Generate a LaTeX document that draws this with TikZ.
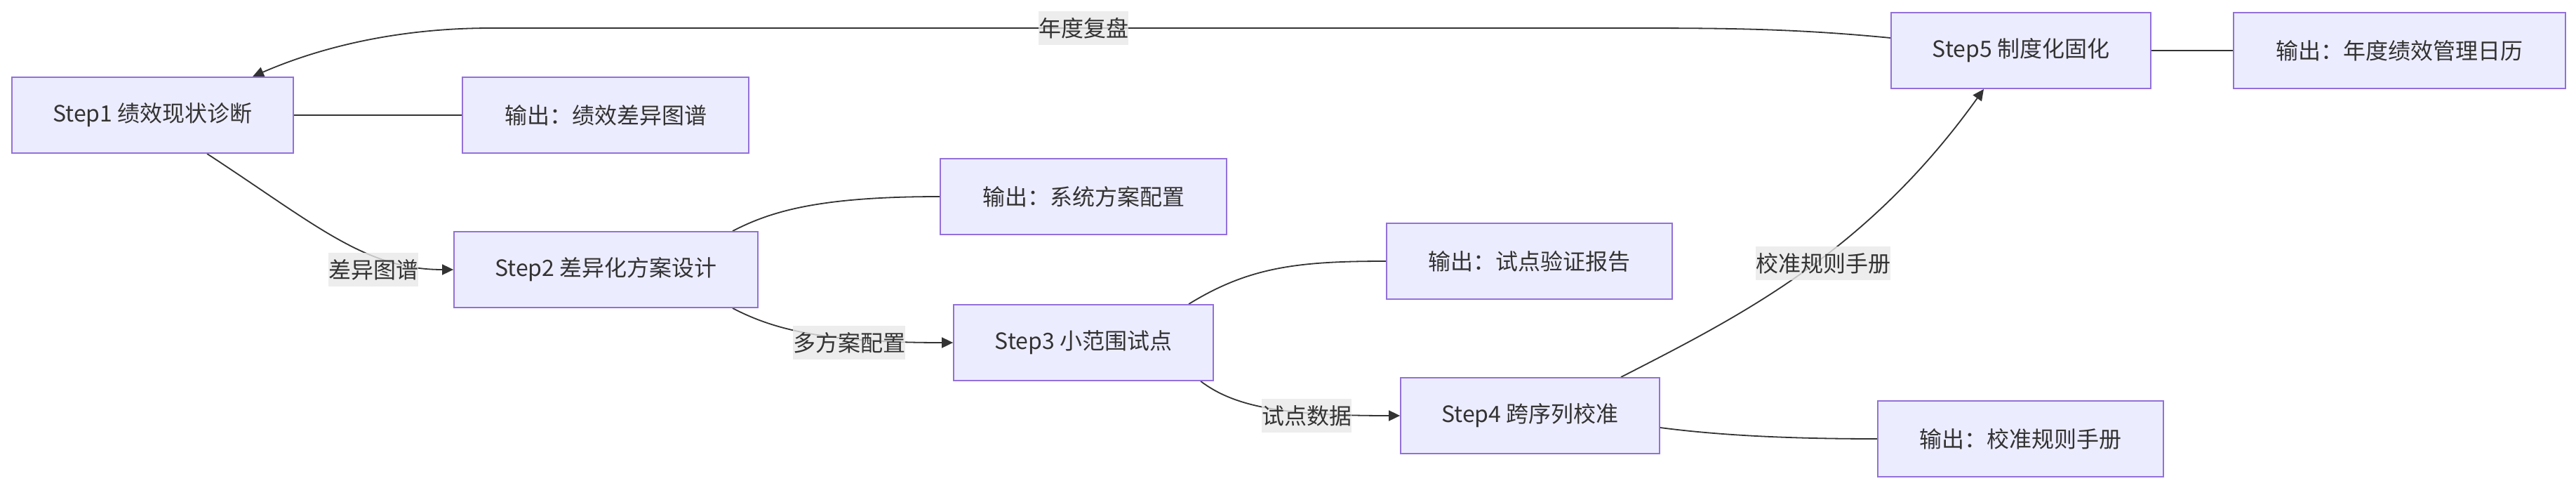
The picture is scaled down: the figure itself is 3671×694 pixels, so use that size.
\documentclass[tikz,border=0pt]{standalone}
\usepackage{fontspec}
\setmainfont{Noto Sans CJK SC}
\usetikzlibrary{arrows.meta}
\definecolor{boxfill}{HTML}{ECECFF}
\definecolor{boxline}{HTML}{9370DB}
\definecolor{ink}{HTML}{333333}
\definecolor{lblbg}{HTML}{E8E8E8}
\pgfdeclarelayer{edges}
\pgfsetlayers{edges,main}
\begin{document}
\begin{tikzpicture}[x=1pt,y=-1pt,
  box/.style={draw=boxline, fill=boxfill, line width=1.8pt, minimum height=108pt, inner sep=0pt, text=ink, font=\fontsize{32pt}{40pt}\selectfont},
  elabel/.style={fill=lblbg, fill opacity=0.8, text opacity=1, text=ink, inner sep=0pt, minimum height=48pt, font=\fontsize{32pt}{40pt}\selectfont},
  link/.style={draw=ink, line width=1.8pt},
  arrowlink/.style={link, -{Triangle[length=16pt,width=15pt]}}
]
\useasboundingbox (0,0) rectangle (3671,694);

% step nodes
\node[box, minimum width=401pt] (s1) at (217.5,164) {Step1 绩效现状诊断};
\node[box, minimum width=433pt] (s2) at (863.5,384) {Step2 差异化方案设计};
\node[box, minimum width=370pt] (s3) at (1544,488) {Step3 小范围试点};
\node[box, minimum width=369pt] (s4) at (2180.5,592) {Step4 跨序列校准};
\node[box, minimum width=370pt] (s5) at (2880,72) {Step5 制度化固化};

% output nodes
\node[box, minimum width=408pt] (o1) at (863,164) {输出：绩效差异图谱};
\node[box, minimum width=408pt] (o2) at (1544,280) {输出：系统方案配置};
\node[box, minimum width=407pt] (o3) at (2179.5,372) {输出：试点验证报告};
\node[box, minimum width=407pt] (o4) at (2879.5,625) {输出：校准规则手册};
\node[box, minimum width=473pt] (o5) at (3419.5,72) {输出：年度绩效管理日历};

% edge labels
\node[elabel, minimum width=128pt] (l12) at (532,384) {差异图谱};
\node[elabel, minimum width=160pt] (l23) at (1210,488) {多方案配置};
\node[elabel, minimum width=128pt] (l34) at (1862,592) {试点数据};
\node[elabel, minimum width=192pt] (l45) at (2598,375) {校准规则手册};
\node[elabel, minimum width=128pt] (l51) at (1544,40) {年度复盘};

\begin{pgfonlayer}{edges}
\draw[link] (s1.east) -- (o1.west);
\draw[link] (s5.east) -- (o5.west);
\draw[arrowlink] ([xshift=77.5pt]s1.south) .. controls (450,320) and (520,384) .. (s2.west);
\draw[link] ([xshift=180.5pt]s2.north) .. controls (1100,300) and (1170,280) .. (o2.west);
\draw[arrowlink] ([xshift=180.5pt]s2.south) .. controls (1100,468) and (1170,488) .. (s3.west);
\draw[link] ([xshift=150pt]s3.north) .. controls (1780,380) and (1850,372) .. (o3.west);
\draw[arrowlink] ([xshift=167pt]s3.south) .. controls (1760,580) and (1830,592) .. (s4.west);
\draw[link] ([yshift=-17pt]s4.east) .. controls (2450,620) and (2550,625) .. (o4.west);
\draw[arrowlink] ([xshift=129.5pt]s4.north) .. controls (2480,450) and (2660,360) .. ([xshift=-53pt]s5.south);
\draw[arrowlink] ([yshift=18pt]s5.west) .. controls (2550,40) and (2450,40) .. (2300,40) -- (700,40) .. controls (560,40) and (450,70) .. ([xshift=142.5pt]s1.north);
\end{pgfonlayer}
\end{tikzpicture}
\end{document}
